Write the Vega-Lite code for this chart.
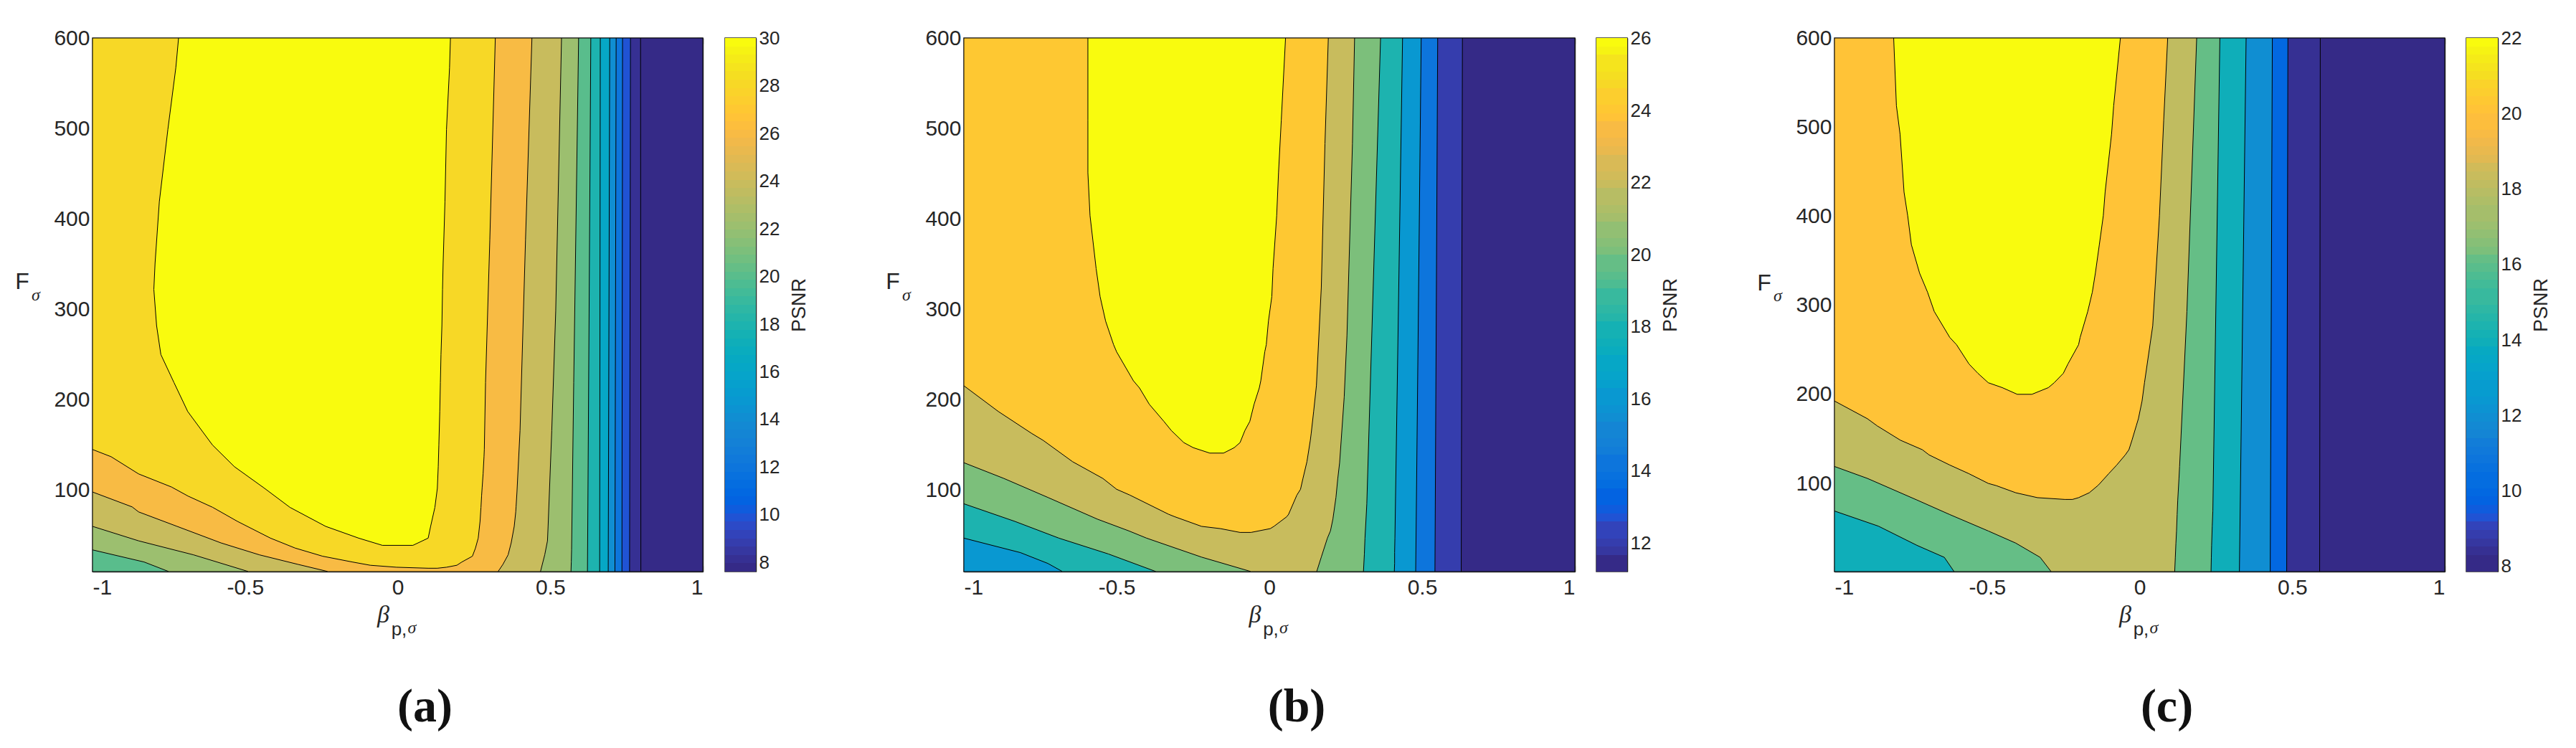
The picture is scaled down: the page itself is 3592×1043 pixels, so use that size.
{"$schema":"https://vega.github.io/schema/vega-lite/v6.json","padding":{"left":20,"top":37,"right":0,"bottom":0},"background":"white","spacing":105,"resolve":{"scale":{"color":"independent"}},"config":{"view":{"stroke":"#262626","strokeWidth":1.5},"axis":{"grid":false,"labelFont":"Liberation Sans","labelFontSize":30,"labelColor":"#262626","domainColor":"#262626","domainWidth":1.5,"tickColor":"#262626","tickWidth":1.2,"title":null,"zindex":1}},
"hconcat":[
{"resolve":{"scale":{"color":"independent"}},"hconcat":[
{"width":851,"height":744,"resolve":{"axis":{"x":"independent","y":"independent"}},"layer":[
{"data":{"values":[{"level":7.6,"y":10,"xl":-1,"xr":1},{"level":7.6,"y":600,"xl":-1,"xr":1},{"level":8,"y":10,"xl":-1,"xr":0.797},{"level":8,"y":600,"xl":-1,"xr":0.796},{"level":10,"y":10,"xl":-1,"xr":0.76},{"level":10,"y":600,"xl":-1,"xr":0.763},{"level":12,"y":10,"xl":-1,"xr":0.735},{"level":12,"y":600,"xl":-1,"xr":0.737},{"level":14,"y":10,"xl":-1,"xr":0.712},{"level":14,"y":600,"xl":-1,"xr":0.716},{"level":16,"y":10,"xl":-1,"xr":0.69},{"level":16,"y":600,"xl":-1,"xr":0.695},{"level":18,"y":10,"xl":-1,"xr":0.662},{"level":18,"y":600,"xl":-1,"xr":0.664},{"level":20,"y":10,"xl":-1,"xr":0.622},{"level":20,"y":600,"xl":-1,"xr":0.633},
{"level":22,"y":10,"xl":-0.75,"xr":0.568},{"level":22,"y":20.6,"xl":-0.831,"xr":0.569},{"level":22,"y":34,"xl":-1,"xr":0.57},{"level":22,"y":219,"xl":-1,"xr":0.577},{"level":22,"y":600,"xl":-1,"xr":0.593},
{"level":24,"y":10,"xl":-0.489,"xr":0.468},{"level":24,"y":28.5,"xl":-0.669,"xr":0.482},{"level":24,"y":44,"xl":-0.849,"xr":0.491},{"level":24,"y":60,"xl":-1,"xr":0.493},{"level":24,"y":166,"xl":-1,"xr":0.505},{"level":24,"y":298,"xl":-1,"xr":0.518},{"level":24,"y":600,"xl":-1,"xr":0.537},
{"level":26,"y":10,"xl":-0.228,"xr":0.329},{"level":26,"y":18,"xl":-0.327,"xr":0.345},{"level":26,"y":28.5,"xl":-0.453,"xr":0.362},{"level":26,"y":41.7,"xl":-0.579,"xr":0.372},{"level":26,"y":60,"xl":-0.723,"xr":0.382},{"level":26,"y":76,"xl":-0.849,"xr":0.387},{"level":26,"y":81.5,"xl":-0.87,"xr":0.388},{"level":26,"y":98,"xl":-1,"xr":0.391},{"level":26,"y":166,"xl":-1,"xr":0.401},{"level":26,"y":377,"xl":-1,"xr":0.419},{"level":26,"y":600,"xl":-1,"xr":0.44},
{"level":28,"y":13.7,"xl":0.1,"xr":0.13},{"level":28,"y":14.8,"xl":-0.004,"xr":0.16},{"level":28,"y":17,"xl":-0.09,"xr":0.194},{"level":28,"y":20.5,"xl":-0.147,"xr":0.21},{"level":28,"y":27,"xl":-0.246,"xr":0.245},{"level":28,"y":36,"xl":-0.336,"xr":0.255},{"level":28,"y":47,"xl":-0.417,"xr":0.264},{"level":28,"y":65.5,"xl":-0.525,"xr":0.27},{"level":28,"y":81,"xl":-0.606,"xr":0.273},{"level":28,"y":93.5,"xl":-0.687,"xr":0.275},{"level":28,"y":103.5,"xl":-0.741,"xr":0.277},{"level":28,"y":118,"xl":-0.849,"xr":0.28},{"level":28,"y":137,"xl":-0.939,"xr":0.283},{"level":28,"y":145,"xl":-1,"xr":0.284},{"level":28,"y":219,"xl":-1,"xr":0.288},{"level":28,"y":377,"xl":-1,"xr":0.302},{"level":28,"y":600,"xl":-1,"xr":0.32},
{"level":30,"y":39,"xl":-0.05,"xr":0.05},{"level":30,"y":47,"xl":-0.128,"xr":0.1},{"level":30,"y":60,"xl":-0.236,"xr":0.108},{"level":30,"y":81,"xl":-0.353,"xr":0.122},{"level":30,"y":102,"xl":-0.436,"xr":0.13},{"level":30,"y":126,"xl":-0.535,"xr":0.133},{"level":30,"y":150,"xl":-0.607,"xr":0.135},{"level":30,"y":187,"xl":-0.688,"xr":0.138},{"level":30,"y":219,"xl":-0.733,"xr":0.14},{"level":30,"y":250,"xl":-0.776,"xr":0.142},{"level":30,"y":282,"xl":-0.79,"xr":0.145},{"level":30,"y":322,"xl":-0.799,"xr":0.147},{"level":30,"y":351,"xl":-0.795,"xr":0.149},{"level":30,"y":419,"xl":-0.781,"xr":0.155},{"level":30,"y":499,"xl":-0.753,"xr":0.16},{"level":30,"y":567,"xl":-0.727,"xr":0.17},{"level":30,"y":600,"xl":-0.718,"xr":0.173}]},
"mark":{"type":"area","orient":"horizontal","stroke":"#000","strokeWidth":1,"clip":true},
"encoding":{"y":{"field":"y","type":"quantitative","scale":{"domain":[10,600]},"axis":{"orient":"left","values":[100,200,300,400,500,600],"tickSize":-8,"labelPadding":12}},"x":{"field":"xl","type":"quantitative","stack":null,"scale":{"domain":[-1,1]},"axis":{"orient":"bottom","values":[-1,-0.5,0,0.5,1],"tickSize":-8,"labelPadding":15,"labelExpr":"''+datum.value"}},"x2":{"field":"xr"},"detail":{"field":"level"},"color":{"field":"level","type":"quantitative","legend":null,"scale":{"type":"quantize","domain":[7.6,30],"range":["#352A87","#363093","#3637A0","#353DAD","#3243BA","#2C4AC7","#2053D4","#0F5CDD","#0363E1","#0268E1","#046DE0","#0871DE","#0D75DC","#1079DA","#127DD8","#1481D6","#1485D4","#1389D3","#108ED2","#0C93D2","#0998D1","#079CCF","#06A0CD","#06A4CA","#06A7C6","#07A9C2","#0AACBE","#0FAEB9","#15B1B4","#1DB3AF","#25B5A9","#2EB7A4","#38B99E","#42BB98","#4DBC92","#59BD8C","#65BE86","#71BF80","#7CBF7B","#87BF77","#92BF73","#9CBF6F","#A5BE6B","#AEBE67","#B7BD64","#C0BC60","#C8BC5D","#D1BB59","#D9BA56","#E1B952","#E9B94E","#F1B94A","#F8BB44","#FDBE3D","#FFC337","#FEC832","#FCCE2E","#FAD32A","#F7D826","#F5DE21","#F5E41D","#F5EB18","#F6F313","#F9FB0E"]}}}},
{"data":{"values":[{}]},"mark":{"type":"text","text":"F","font":"Liberation Sans","fontSize":32,"color":"#262626","dx":-98},"encoding":{"x":{"datum":-1,"scale":{"domain":[-1,1]},"axis":{"orient":"top","values":[-1,-0.5,0,0.5,1],"tickSize":-8,"labels":false}},"y":{"datum":330,"scale":{"domain":[10,600]},"axis":{"orient":"right","values":[100,200,300,400,500,600],"tickSize":-8,"labels":false}}}},
{"data":{"values":[{}]},"mark":{"type":"text","text":"σ","font":"Liberation Serif","fontStyle":"italic","fontSize":24,"color":"#262626","dx":-79},"encoding":{"x":{"datum":-1,"scale":{"domain":[-1,1]},"axis":null},"y":{"datum":315,"scale":{"domain":[10,600]},"axis":null}}},
{"data":{"values":[{}]},"mark":{"type":"text","text":"β","font":"Liberation Serif","fontStyle":"italic","fontSize":34,"color":"#262626","dx":-20,"dy":61},"encoding":{"x":{"datum":0,"scale":{"domain":[-1,1]},"axis":null},"y":{"datum":10,"scale":{"domain":[10,600]},"axis":null}}},
{"data":{"values":[{}]},"mark":{"type":"text","text":"p,","font":"Liberation Sans","fontSize":26,"color":"#262626","dx":2,"dy":81},"encoding":{"x":{"datum":0,"scale":{"domain":[-1,1]},"axis":null},"y":{"datum":10,"scale":{"domain":[10,600]},"axis":null}}},
{"data":{"values":[{}]},"mark":{"type":"text","text":"σ","font":"Liberation Serif","fontStyle":"italic","fontSize":24,"color":"#262626","dx":20,"dy":79},"encoding":{"x":{"datum":0,"scale":{"domain":[-1,1]},"axis":null},"y":{"datum":10,"scale":{"domain":[10,600]},"axis":null}}},
{"data":{"values":[{}]},"mark":{"type":"text","text":"(a)","font":"Liberation Serif","fontWeight":"bold","fontSize":66,"color":"#111","dx":38,"dy":189},"encoding":{"x":{"datum":0,"scale":{"domain":[-1,1]},"axis":null},"y":{"datum":10,"scale":{"domain":[10,600]},"axis":null}}}
]},
{"width":43,"height":744,"data":{"values":[{"lo":7.6},{"lo":7.95},{"lo":8.3},{"lo":8.65},{"lo":9},{"lo":9.35},{"lo":9.7},{"lo":10.05},{"lo":10.4},{"lo":10.75},{"lo":11.1},{"lo":11.45},{"lo":11.8},{"lo":12.15},{"lo":12.5},{"lo":12.85},{"lo":13.2},{"lo":13.55},{"lo":13.9},{"lo":14.25},{"lo":14.6},{"lo":14.95},{"lo":15.3},{"lo":15.65},{"lo":16},{"lo":16.35},{"lo":16.7},{"lo":17.05},{"lo":17.4},{"lo":17.75},{"lo":18.1},{"lo":18.45},{"lo":18.8},{"lo":19.15},{"lo":19.5},{"lo":19.85},{"lo":20.2},{"lo":20.55},{"lo":20.9},{"lo":21.25},{"lo":21.6},{"lo":21.95},{"lo":22.3},{"lo":22.65},{"lo":23},{"lo":23.35},{"lo":23.7},{"lo":24.05},{"lo":24.4},{"lo":24.75},{"lo":25.1},{"lo":25.45},{"lo":25.8},{"lo":26.15},{"lo":26.5},{"lo":26.85},{"lo":27.2},{"lo":27.55},{"lo":27.9},{"lo":28.25},{"lo":28.6},{"lo":28.95},{"lo":29.3},{"lo":29.65},{"lo":30}]},"transform":[{"window":[{"op":"lead","field":"lo","as":"hi"}]},{"filter":"datum.hi != null"}],
"mark":{"type":"rect"},
"encoding":{"y":{"field":"lo","type":"quantitative","scale":{"domain":[7.6,30],"nice":false,"round":true},"axis":{"orient":"right","values":[8,10,12,14,16,18,20,22,24,26,28,30],"tickSize":-7,"labelFontSize":26,"labelPadding":11,"title":"PSNR","titleFont":"Liberation Sans","titleFontSize":27,"titleFontWeight":"normal","titleColor":"#262626","titlePadding":42,"titleAngle":270}},"y2":{"field":"hi"},"color":{"field":"lo","type":"quantitative","legend":null,"scale":{"type":"quantize","domain":[7.6,30],"range":["#352A87","#363093","#3637A0","#353DAD","#3243BA","#2C4AC7","#2053D4","#0F5CDD","#0363E1","#0268E1","#046DE0","#0871DE","#0D75DC","#1079DA","#127DD8","#1481D6","#1485D4","#1389D3","#108ED2","#0C93D2","#0998D1","#079CCF","#06A0CD","#06A4CA","#06A7C6","#07A9C2","#0AACBE","#0FAEB9","#15B1B4","#1DB3AF","#25B5A9","#2EB7A4","#38B99E","#42BB98","#4DBC92","#59BD8C","#65BE86","#71BF80","#7CBF7B","#87BF77","#92BF73","#9CBF6F","#A5BE6B","#AEBE67","#B7BD64","#C0BC60","#C8BC5D","#D1BB59","#D9BA56","#E1B952","#E9B94E","#F1B94A","#F8BB44","#FDBE3D","#FFC337","#FEC832","#FCCE2E","#FAD32A","#F7D826","#F5DE21","#F5E41D","#F5EB18","#F6F313","#F9FB0E"]}}}}
],"spacing":31,"bounds":"flush"},
{"resolve":{"scale":{"color":"independent"}},"hconcat":[
{"width":852,"height":744,"resolve":{"axis":{"x":"independent","y":"independent"}},"layer":[
{"data":{"values":[{"level":11.2,"y":10,"xl":-1,"xr":1},{"level":11.2,"y":600,"xl":-1,"xr":1},{"level":12,"y":10,"xl":-1,"xr":0.628},{"level":12,"y":600,"xl":-1,"xr":0.632},{"level":14,"y":10,"xl":-1,"xr":0.542},{"level":14,"y":600,"xl":-1,"xr":0.551},{"level":16,"y":10,"xl":-1,"xr":0.479},{"level":16,"y":600,"xl":-1,"xr":0.497},
{"level":18,"y":10,"xl":-0.677,"xr":0.409},{"level":18,"y":19,"xl":-0.725,"xr":0.41},{"level":18,"y":31,"xl":-0.815,"xr":0.41},{"level":18,"y":47,"xl":-1,"xr":0.411},{"level":18,"y":600,"xl":-1,"xr":0.436},
{"level":20,"y":10,"xl":-0.371,"xr":0.308},{"level":20,"y":29.5,"xl":-0.527,"xr":0.311},{"level":20,"y":47,"xl":-0.689,"xr":0.313},{"level":20,"y":65.5,"xl":-0.833,"xr":0.316},{"level":20,"y":85,"xl":-1,"xr":0.319},{"level":20,"y":600,"xl":-1,"xr":0.364},
{"level":22,"y":10,"xl":-0.06,"xr":0.155},{"level":22,"y":26,"xl":-0.222,"xr":0.17},{"level":22,"y":47,"xl":-0.402,"xr":0.19},{"level":22,"y":55,"xl":-0.46,"xr":0.2},{"level":22,"y":68,"xl":-0.563,"xr":0.208},{"level":22,"y":92,"xl":-0.725,"xr":0.218},{"level":22,"y":113,"xl":-0.869,"xr":0.224},{"level":22,"y":130.4,"xl":-1,"xr":0.23},{"level":22,"y":203,"xl":-1,"xr":0.245},{"level":22,"y":271,"xl":-1,"xr":0.254},{"level":22,"y":483,"xl":-1,"xr":0.272},{"level":22,"y":600,"xl":-1,"xr":0.279},
{"level":24,"y":53.3,"xl":-0.096,"xr":-0.06},{"level":24,"y":57.5,"xl":-0.16,"xr":0.003},{"level":24,"y":60,"xl":-0.222,"xr":0.015},{"level":24,"y":70.7,"xl":-0.31,"xr":0.057},{"level":24,"y":73.4,"xl":-0.33,"xr":0.063},{"level":24,"y":94.5,"xl":-0.456,"xr":0.09},{"level":24,"y":101,"xl":-0.5,"xr":0.102},{"level":24,"y":113,"xl":-0.545,"xr":0.11},{"level":24,"y":131.5,"xl":-0.644,"xr":0.123},{"level":24,"y":155,"xl":-0.74,"xr":0.134},{"level":24,"y":163,"xl":-0.779,"xr":0.137},{"level":24,"y":187,"xl":-0.887,"xr":0.145},{"level":24,"y":215.5,"xl":-1,"xr":0.154},{"level":24,"y":324,"xl":-1,"xr":0.17},{"level":24,"y":483,"xl":-1,"xr":0.182},{"level":24,"y":600,"xl":-1,"xr":0.193},
{"level":26,"y":141,"xl":-0.195,"xr":-0.15},{"level":26,"y":147,"xl":-0.249,"xr":-0.115},{"level":26,"y":152.6,"xl":-0.28,"xr":-0.096},{"level":26,"y":166,"xl":-0.321,"xr":-0.08},{"level":26,"y":176,"xl":-0.345,"xr":-0.064},{"level":26,"y":195,"xl":-0.393,"xr":-0.05},{"level":26,"y":213,"xl":-0.425,"xr":-0.033},{"level":26,"y":221,"xl":-0.445,"xr":-0.028},{"level":26,"y":253,"xl":-0.5,"xr":-0.015},{"level":26,"y":261,"xl":-0.51,"xr":-0.01},{"level":26,"y":287,"xl":-0.536,"xr":-0.003},{"level":26,"y":314,"xl":-0.554,"xr":0.008},{"level":26,"y":345,"xl":-0.567,"xr":0.012},{"level":26,"y":403.5,"xl":-0.587,"xr":0.024},{"level":26,"y":451,"xl":-0.594,"xr":0.03},{"level":26,"y":509,"xl":-0.594,"xr":0.039},{"level":26,"y":600,"xl":-0.594,"xr":0.053}]},
"mark":{"type":"area","orient":"horizontal","stroke":"#000","strokeWidth":1,"clip":true},
"encoding":{"y":{"field":"y","type":"quantitative","scale":{"domain":[10,600]},"axis":{"orient":"left","values":[100,200,300,400,500,600],"tickSize":-8,"labelPadding":12}},"x":{"field":"xl","type":"quantitative","stack":null,"scale":{"domain":[-1,1]},"axis":{"orient":"bottom","values":[-1,-0.5,0,0.5,1],"tickSize":-8,"labelPadding":15,"labelExpr":"''+datum.value"}},"x2":{"field":"xr"},"detail":{"field":"level"},"color":{"field":"level","type":"quantitative","legend":null,"scale":{"type":"quantize","domain":[11.2,26],"range":["#352A87","#363093","#3637A0","#353DAD","#3243BA","#2C4AC7","#2053D4","#0F5CDD","#0363E1","#0268E1","#046DE0","#0871DE","#0D75DC","#1079DA","#127DD8","#1481D6","#1485D4","#1389D3","#108ED2","#0C93D2","#0998D1","#079CCF","#06A0CD","#06A4CA","#06A7C6","#07A9C2","#0AACBE","#0FAEB9","#15B1B4","#1DB3AF","#25B5A9","#2EB7A4","#38B99E","#42BB98","#4DBC92","#59BD8C","#65BE86","#71BF80","#7CBF7B","#87BF77","#92BF73","#9CBF6F","#A5BE6B","#AEBE67","#B7BD64","#C0BC60","#C8BC5D","#D1BB59","#D9BA56","#E1B952","#E9B94E","#F1B94A","#F8BB44","#FDBE3D","#FFC337","#FEC832","#FCCE2E","#FAD32A","#F7D826","#F5DE21","#F5E41D","#F5EB18","#F6F313","#F9FB0E"]}}}},
{"data":{"values":[{}]},"mark":{"type":"text","text":"F","font":"Liberation Sans","fontSize":32,"color":"#262626","dx":-99},"encoding":{"x":{"datum":-1,"scale":{"domain":[-1,1]},"axis":{"orient":"top","values":[-1,-0.5,0,0.5,1],"tickSize":-8,"labels":false}},"y":{"datum":330,"scale":{"domain":[10,600]},"axis":{"orient":"right","values":[100,200,300,400,500,600],"tickSize":-8,"labels":false}}}},
{"data":{"values":[{}]},"mark":{"type":"text","text":"σ","font":"Liberation Serif","fontStyle":"italic","fontSize":24,"color":"#262626","dx":-80},"encoding":{"x":{"datum":-1,"scale":{"domain":[-1,1]},"axis":null},"y":{"datum":315,"scale":{"domain":[10,600]},"axis":null}}},
{"data":{"values":[{}]},"mark":{"type":"text","text":"β","font":"Liberation Serif","fontStyle":"italic","fontSize":34,"color":"#262626","dx":-20,"dy":61},"encoding":{"x":{"datum":0,"scale":{"domain":[-1,1]},"axis":null},"y":{"datum":10,"scale":{"domain":[10,600]},"axis":null}}},
{"data":{"values":[{}]},"mark":{"type":"text","text":"p,","font":"Liberation Sans","fontSize":26,"color":"#262626","dx":2,"dy":81},"encoding":{"x":{"datum":0,"scale":{"domain":[-1,1]},"axis":null},"y":{"datum":10,"scale":{"domain":[10,600]},"axis":null}}},
{"data":{"values":[{}]},"mark":{"type":"text","text":"σ","font":"Liberation Serif","fontStyle":"italic","fontSize":24,"color":"#262626","dx":20,"dy":79},"encoding":{"x":{"datum":0,"scale":{"domain":[-1,1]},"axis":null},"y":{"datum":10,"scale":{"domain":[10,600]},"axis":null}}},
{"data":{"values":[{}]},"mark":{"type":"text","text":"(b)","font":"Liberation Serif","fontWeight":"bold","fontSize":66,"color":"#111","dx":38,"dy":189},"encoding":{"x":{"datum":0,"scale":{"domain":[-1,1]},"axis":null},"y":{"datum":10,"scale":{"domain":[10,600]},"axis":null}}}
]},
{"width":43,"height":744,"data":{"values":[{"lo":11.2},{"lo":11.431},{"lo":11.663},{"lo":11.894},{"lo":12.125},{"lo":12.356},{"lo":12.588},{"lo":12.819},{"lo":13.05},{"lo":13.281},{"lo":13.513},{"lo":13.744},{"lo":13.975},{"lo":14.206},{"lo":14.438},{"lo":14.669},{"lo":14.9},{"lo":15.131},{"lo":15.363},{"lo":15.594},{"lo":15.825},{"lo":16.056},{"lo":16.288},{"lo":16.519},{"lo":16.75},{"lo":16.981},{"lo":17.213},{"lo":17.444},{"lo":17.675},{"lo":17.906},{"lo":18.138},{"lo":18.369},{"lo":18.6},{"lo":18.831},{"lo":19.063},{"lo":19.294},{"lo":19.525},{"lo":19.756},{"lo":19.988},{"lo":20.219},{"lo":20.45},{"lo":20.681},{"lo":20.913},{"lo":21.144},{"lo":21.375},{"lo":21.606},{"lo":21.838},{"lo":22.069},{"lo":22.3},{"lo":22.531},{"lo":22.763},{"lo":22.994},{"lo":23.225},{"lo":23.456},{"lo":23.688},{"lo":23.919},{"lo":24.15},{"lo":24.381},{"lo":24.613},{"lo":24.844},{"lo":25.075},{"lo":25.306},{"lo":25.538},{"lo":25.769},{"lo":26}]},"transform":[{"window":[{"op":"lead","field":"lo","as":"hi"}]},{"filter":"datum.hi != null"}],
"mark":{"type":"rect"},
"encoding":{"y":{"field":"lo","type":"quantitative","scale":{"domain":[11.2,26],"nice":false,"round":true},"axis":{"orient":"right","values":[12,14,16,18,20,22,24,26],"tickSize":-7,"labelFontSize":26,"labelPadding":11,"title":"PSNR","titleFont":"Liberation Sans","titleFontSize":27,"titleFontWeight":"normal","titleColor":"#262626","titlePadding":42,"titleAngle":270}},"y2":{"field":"hi"},"color":{"field":"lo","type":"quantitative","legend":null,"scale":{"type":"quantize","domain":[11.2,26],"range":["#352A87","#363093","#3637A0","#353DAD","#3243BA","#2C4AC7","#2053D4","#0F5CDD","#0363E1","#0268E1","#046DE0","#0871DE","#0D75DC","#1079DA","#127DD8","#1481D6","#1485D4","#1389D3","#108ED2","#0C93D2","#0998D1","#079CCF","#06A0CD","#06A4CA","#06A7C6","#07A9C2","#0AACBE","#0FAEB9","#15B1B4","#1DB3AF","#25B5A9","#2EB7A4","#38B99E","#42BB98","#4DBC92","#59BD8C","#65BE86","#71BF80","#7CBF7B","#87BF77","#92BF73","#9CBF6F","#A5BE6B","#AEBE67","#B7BD64","#C0BC60","#C8BC5D","#D1BB59","#D9BA56","#E1B952","#E9B94E","#F1B94A","#F8BB44","#FDBE3D","#FFC337","#FEC832","#FCCE2E","#FAD32A","#F7D826","#F5DE21","#F5E41D","#F5EB18","#F6F313","#F9FB0E"]}}}}
],"spacing":30,"bounds":"flush"},
{"resolve":{"scale":{"color":"independent"}},"hconcat":[
{"width":851,"height":744,"resolve":{"axis":{"x":"independent","y":"independent"}},"layer":[
{"data":{"values":[{"level":7.85,"y":1,"xl":-1,"xr":1},{"level":7.85,"y":600,"xl":-1,"xr":1},{"level":8.1,"y":1,"xl":-1,"xr":0.59},{"level":8.1,"y":600,"xl":-1,"xr":0.592},{"level":10,"y":1,"xl":-1,"xr":0.482},{"level":10,"y":600,"xl":-1,"xr":0.486},{"level":12,"y":1,"xl":-1,"xr":0.428},{"level":12,"y":600,"xl":-1,"xr":0.435},{"level":14,"y":1,"xl":-1,"xr":0.327},{"level":14,"y":600,"xl":-1,"xr":0.349},
{"level":16,"y":1,"xl":-0.608,"xr":0.234},{"level":16,"y":17,"xl":-0.64,"xr":0.235},{"level":16,"y":30.5,"xl":-0.73,"xr":0.236},{"level":16,"y":52,"xl":-0.856,"xr":0.238},{"level":16,"y":69,"xl":-1,"xr":0.24},{"level":16,"y":600,"xl":-1,"xr":0.263},
{"level":18,"y":1,"xl":-0.29,"xr":0.115},{"level":18,"y":17,"xl":-0.326,"xr":0.117},{"level":18,"y":33,"xl":-0.406,"xr":0.119},{"level":18,"y":46.6,"xl":-0.496,"xr":0.121},{"level":18,"y":65,"xl":-0.622,"xr":0.123},{"level":18,"y":81.4,"xl":-0.73,"xr":0.125},{"level":18,"y":105.6,"xl":-0.892,"xr":0.129},{"level":18,"y":119,"xl":-1,"xr":0.131},{"level":18,"y":293,"xl":-1,"xr":0.155},{"level":18,"y":600,"xl":-1,"xr":0.187},
{"level":20,"y":82,"xl":-0.245,"xr":-0.22},{"level":20,"y":84,"xl":-0.335,"xr":-0.2},{"level":20,"y":89.5,"xl":-0.406,"xr":-0.165},{"level":20,"y":97.5,"xl":-0.47,"xr":-0.137},{"level":20,"y":100,"xl":-0.496,"xr":-0.13},{"level":20,"y":111,"xl":-0.56,"xr":-0.101},{"level":20,"y":120.6,"xl":-0.622,"xr":-0.075},{"level":20,"y":132,"xl":-0.69,"xr":-0.047},{"level":20,"y":137.8,"xl":-0.712,"xr":-0.035},{"level":20,"y":148.5,"xl":-0.784,"xr":-0.025},{"level":20,"y":164.6,"xl":-0.86,"xr":-0.011},{"level":20,"y":172.6,"xl":-0.892,"xr":-0.004},{"level":20,"y":192.5,"xl":-1,"xr":0.008},{"level":20,"y":213,"xl":-1,"xr":0.016},{"level":20,"y":277,"xl":-1,"xr":0.043},{"level":20,"y":400.5,"xl":-1,"xr":0.065},{"level":20,"y":508,"xl":-1,"xr":0.079},{"level":20,"y":600,"xl":-1,"xr":0.092},
{"level":22,"y":200,"xl":-0.401,"xr":-0.353},{"level":22,"y":207.5,"xl":-0.45,"xr":-0.299},{"level":22,"y":213,"xl":-0.496,"xr":-0.28},{"level":22,"y":223.6,"xl":-0.53,"xr":-0.25},{"level":22,"y":234,"xl":-0.559,"xr":-0.235},{"level":22,"y":255.7,"xl":-0.6,"xr":-0.2},{"level":22,"y":263.8,"xl":-0.622,"xr":-0.195},{"level":22,"y":293,"xl":-0.673,"xr":-0.17},{"level":22,"y":314.7,"xl":-0.695,"xr":-0.155},{"level":22,"y":336,"xl":-0.721,"xr":-0.145},{"level":22,"y":368,"xl":-0.748,"xr":-0.132},{"level":22,"y":400.5,"xl":-0.76,"xr":-0.119},{"level":22,"y":427,"xl":-0.772,"xr":-0.113},{"level":22,"y":492,"xl":-0.785,"xr":-0.092},{"level":22,"y":524,"xl":-0.797,"xr":-0.085},{"level":22,"y":600,"xl":-0.806,"xr":-0.063}]},
"mark":{"type":"area","orient":"horizontal","stroke":"#000","strokeWidth":1,"clip":true},
"encoding":{"y":{"field":"y","type":"quantitative","scale":{"domain":[1,600]},"axis":{"orient":"left","values":[100,200,300,400,500,600],"tickSize":-8,"labelPadding":12}},"x":{"field":"xl","type":"quantitative","stack":null,"scale":{"domain":[-1,1]},"axis":{"orient":"bottom","values":[-1,-0.5,0,0.5,1],"tickSize":-8,"labelPadding":15,"labelExpr":"''+datum.value"}},"x2":{"field":"xr"},"detail":{"field":"level"},"color":{"field":"level","type":"quantitative","legend":null,"scale":{"type":"quantize","domain":[7.85,22],"range":["#352A87","#363093","#3637A0","#353DAD","#3243BA","#2C4AC7","#2053D4","#0F5CDD","#0363E1","#0268E1","#046DE0","#0871DE","#0D75DC","#1079DA","#127DD8","#1481D6","#1485D4","#1389D3","#108ED2","#0C93D2","#0998D1","#079CCF","#06A0CD","#06A4CA","#06A7C6","#07A9C2","#0AACBE","#0FAEB9","#15B1B4","#1DB3AF","#25B5A9","#2EB7A4","#38B99E","#42BB98","#4DBC92","#59BD8C","#65BE86","#71BF80","#7CBF7B","#87BF77","#92BF73","#9CBF6F","#A5BE6B","#AEBE67","#B7BD64","#C0BC60","#C8BC5D","#D1BB59","#D9BA56","#E1B952","#E9B94E","#F1B94A","#F8BB44","#FDBE3D","#FFC337","#FEC832","#FCCE2E","#FAD32A","#F7D826","#F5DE21","#F5E41D","#F5EB18","#F6F313","#F9FB0E"]}}}},
{"data":{"values":[{}]},"mark":{"type":"text","text":"F","font":"Liberation Sans","fontSize":32,"color":"#262626","dx":-98},"encoding":{"x":{"datum":-1,"scale":{"domain":[-1,1]},"axis":{"orient":"top","values":[-1,-0.5,0,0.5,1],"tickSize":-8,"labels":false}},"y":{"datum":325,"scale":{"domain":[1,600]},"axis":{"orient":"right","values":[100,200,300,400,500,600],"tickSize":-8,"labels":false}}}},
{"data":{"values":[{}]},"mark":{"type":"text","text":"σ","font":"Liberation Serif","fontStyle":"italic","fontSize":24,"color":"#262626","dx":-79},"encoding":{"x":{"datum":-1,"scale":{"domain":[-1,1]},"axis":null},"y":{"datum":310,"scale":{"domain":[1,600]},"axis":null}}},
{"data":{"values":[{}]},"mark":{"type":"text","text":"β","font":"Liberation Serif","fontStyle":"italic","fontSize":34,"color":"#262626","dx":-20,"dy":61},"encoding":{"x":{"datum":0,"scale":{"domain":[-1,1]},"axis":null},"y":{"datum":1,"scale":{"domain":[1,600]},"axis":null}}},
{"data":{"values":[{}]},"mark":{"type":"text","text":"p,","font":"Liberation Sans","fontSize":26,"color":"#262626","dx":2,"dy":81},"encoding":{"x":{"datum":0,"scale":{"domain":[-1,1]},"axis":null},"y":{"datum":1,"scale":{"domain":[1,600]},"axis":null}}},
{"data":{"values":[{}]},"mark":{"type":"text","text":"σ","font":"Liberation Serif","fontStyle":"italic","fontSize":24,"color":"#262626","dx":20,"dy":79},"encoding":{"x":{"datum":0,"scale":{"domain":[-1,1]},"axis":null},"y":{"datum":1,"scale":{"domain":[1,600]},"axis":null}}},
{"data":{"values":[{}]},"mark":{"type":"text","text":"(c)","font":"Liberation Serif","fontWeight":"bold","fontSize":66,"color":"#111","dx":38,"dy":189},"encoding":{"x":{"datum":0,"scale":{"domain":[-1,1]},"axis":null},"y":{"datum":1,"scale":{"domain":[1,600]},"axis":null}}}
]},
{"width":44,"height":744,"data":{"values":[{"lo":7.85},{"lo":8.071},{"lo":8.292},{"lo":8.513},{"lo":8.734},{"lo":8.955},{"lo":9.177},{"lo":9.398},{"lo":9.619},{"lo":9.84},{"lo":10.061},{"lo":10.282},{"lo":10.503},{"lo":10.724},{"lo":10.945},{"lo":11.166},{"lo":11.388},{"lo":11.609},{"lo":11.83},{"lo":12.051},{"lo":12.272},{"lo":12.493},{"lo":12.714},{"lo":12.935},{"lo":13.156},{"lo":13.377},{"lo":13.598},{"lo":13.82},{"lo":14.041},{"lo":14.262},{"lo":14.483},{"lo":14.704},{"lo":14.925},{"lo":15.146},{"lo":15.367},{"lo":15.588},{"lo":15.809},{"lo":16.03},{"lo":16.252},{"lo":16.473},{"lo":16.694},{"lo":16.915},{"lo":17.136},{"lo":17.357},{"lo":17.578},{"lo":17.799},{"lo":18.02},{"lo":18.241},{"lo":18.462},{"lo":18.684},{"lo":18.905},{"lo":19.126},{"lo":19.347},{"lo":19.568},{"lo":19.789},{"lo":20.01},{"lo":20.231},{"lo":20.452},{"lo":20.673},{"lo":20.895},{"lo":21.116},{"lo":21.337},{"lo":21.558},{"lo":21.779},{"lo":22}]},"transform":[{"window":[{"op":"lead","field":"lo","as":"hi"}]},{"filter":"datum.hi != null"}],
"mark":{"type":"rect"},
"encoding":{"y":{"field":"lo","type":"quantitative","scale":{"domain":[7.85,22],"nice":false,"round":true},"axis":{"orient":"right","values":[8,10,12,14,16,18,20,22],"tickSize":-7,"labelFontSize":26,"labelPadding":11,"title":"PSNR","titleFont":"Liberation Sans","titleFontSize":27,"titleFontWeight":"normal","titleColor":"#262626","titlePadding":42,"titleAngle":270}},"y2":{"field":"hi"},"color":{"field":"lo","type":"quantitative","legend":null,"scale":{"type":"quantize","domain":[7.85,22],"range":["#352A87","#363093","#3637A0","#353DAD","#3243BA","#2C4AC7","#2053D4","#0F5CDD","#0363E1","#0268E1","#046DE0","#0871DE","#0D75DC","#1079DA","#127DD8","#1481D6","#1485D4","#1389D3","#108ED2","#0C93D2","#0998D1","#079CCF","#06A0CD","#06A4CA","#06A7C6","#07A9C2","#0AACBE","#0FAEB9","#15B1B4","#1DB3AF","#25B5A9","#2EB7A4","#38B99E","#42BB98","#4DBC92","#59BD8C","#65BE86","#71BF80","#7CBF7B","#87BF77","#92BF73","#9CBF6F","#A5BE6B","#AEBE67","#B7BD64","#C0BC60","#C8BC5D","#D1BB59","#D9BA56","#E1B952","#E9B94E","#F1B94A","#F8BB44","#FDBE3D","#FFC337","#FEC832","#FCCE2E","#FAD32A","#F7D826","#F5DE21","#F5E41D","#F5EB18","#F6F313","#F9FB0E"]}}}}
],"spacing":30,"bounds":"flush"}
]}
